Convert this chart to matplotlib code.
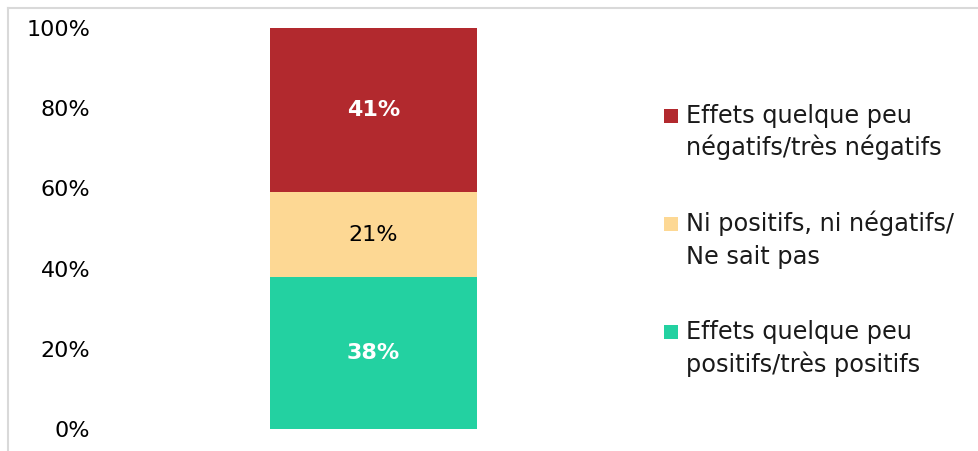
import matplotlib
matplotlib.use('Agg')
import matplotlib.pyplot as plt
from matplotlib.lines import Line2D
from matplotlib.patches import Rectangle

plt.rcParams['font.family'] = ['DejaVu Sans']

categories = ['Effets quelque peu\npositifs/très positifs',
              'Ni positifs, ni négatifs/\nNe sait pas',
              'Effets quelque peu\nnégatifs/très négatifs']
values = [38, 21, 41]
colors = ['#23D1A1', '#FDD894', '#B2292E']
label_colors = ['white', 'black', 'white']
label_weights = ['bold', 'normal', 'bold']
yticks = [0, 20, 40, 60, 80, 100]
ytick_labels = ['0%', '20%', '40%', '60%', '80%', '100%']

W, H = 979, 451
fig = plt.figure(figsize=(W / 100, H / 100), dpi=100)
ax = fig.add_axes([100 / W, (H - 429) / H, 540 / W, 401 / H])

bottom = 0
for v, c, lc, lw_ in zip(values, colors, label_colors, label_weights):
    ax.bar(0, v, width=0.8, bottom=bottom, color=c)
    ax.text(0, bottom + v / 2, f'{v}%', ha='center', va='center',
            color=lc, fontweight=lw_, fontsize=16)
    bottom += v

ax.set_xlim(-1.057, 1.03)
ax.set_ylim(0, 100)
ax.set_xticks([])
ax.set_yticks(yticks)
ax.set_yticklabels(ytick_labels, fontsize=16)
ax.tick_params(axis='y', length=0, pad=7)
for s in ax.spines.values():
    s.set_visible(False)


def px(x, y):
    # pixel position from top-left -> figure fraction
    return x / W, 1 - y / H


# legend, drawn by hand so the square sits on the first text line
base0, entry_pitch, line_pitch = 122.5, 108.3, 33
for i, (lab, c) in enumerate(zip(categories[::-1], colors[::-1])):
    yb = base0 + i * entry_pitch
    x0, y0 = px(664, yb)
    fig.add_artist(Rectangle((x0, y0), 14 / W, 14 / H, transform=fig.transFigure,
                             facecolor=c, edgecolor='none'))
    for j, line in enumerate(lab.split('\n')):
        tx, ty = px(686, yb + j * line_pitch)
        fig.text(tx, ty, line, ha='left', va='baseline', fontsize=17.3, color='#1a1a1a')

# outer chart border (top and left edges visible)
fig.add_artist(Line2D([8 / W, 1], [1 - 8 / H, 1 - 8 / H], color='#D9D9D9', lw=1.5))
fig.add_artist(Line2D([8 / W, 8 / W], [0, 1 - 8 / H], color='#D9D9D9', lw=1.5))

fig.savefig('out.png', dpi=100)
